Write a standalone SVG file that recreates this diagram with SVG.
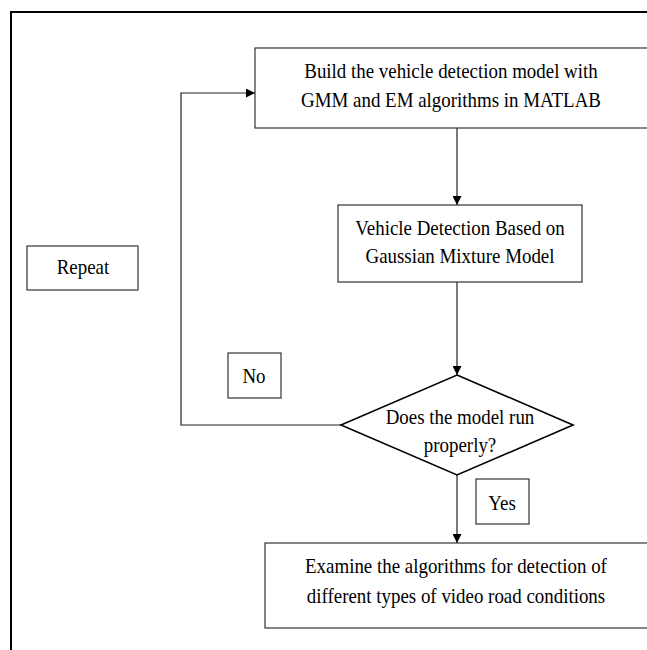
<svg xmlns="http://www.w3.org/2000/svg" width="647" height="650" viewBox="0 0 647 650">
<style>
.box{fill:#fff;stroke:#333;stroke-width:1.2}
.dia{fill:#fff;stroke:#000;stroke-width:1.6}
.t{font-family:"Liberation Serif","Times New Roman",serif;font-size:22px;fill:#000;text-anchor:middle}
.c{fill:none;stroke:#222;stroke-width:1.2}
</style>
<defs>
<marker id="ah" viewBox="0 0 10 10" refX="10" refY="5" markerWidth="10" markerHeight="9" markerUnits="userSpaceOnUse" orient="auto">
<path d="M0,0 L10,5 L0,10 z" fill="#000"/>
</marker>
</defs>
<rect x="0" y="0" width="647" height="650" fill="#fff"/>
<rect x="11" y="12" width="700" height="700" fill="none" stroke="#000" stroke-width="2"/>
<g id="connectors">
<polyline class="c" points="341,425 181,425 181,93 255,93" marker-end="url(#ah)"/>
<line class="c" x1="457" y1="128" x2="457" y2="205" marker-end="url(#ah)"/>
<line class="c" x1="457" y1="282" x2="457" y2="375" marker-end="url(#ah)"/>
<line class="c" x1="457" y1="475" x2="457" y2="543" marker-end="url(#ah)"/>
</g>
<g id="build">
<rect class="box" x="255" y="48" width="420" height="80"/>
<text class="t" transform="translate(451,78) scale(0.86,1)">Build the vehicle detection model with</text>
<text class="t" transform="translate(451,107) scale(0.86,1)">GMM and EM algorithms in MATLAB</text>
</g>
<g id="detect">
<rect class="box" x="338" y="205" width="244" height="77"/>
<text class="t" transform="translate(460,235) scale(0.86,1)">Vehicle Detection Based on</text>
<text class="t" transform="translate(460,263) scale(0.86,1)">Gaussian Mixture Model</text>
</g>
<g id="decision">
<polygon class="dia" points="457,375 573,425 457,475 341,425"/>
<text class="t" transform="translate(460,424) scale(0.86,1)">Does the model run</text>
<text class="t" transform="translate(460,452) scale(0.86,1)">properly?</text>
</g>
<g id="examine">
<rect class="box" x="265" y="543" width="420" height="85"/>
<text class="t" transform="translate(456,573) scale(0.86,1)">Examine the algorithms for detection of</text>
<text class="t" transform="translate(456,603) scale(0.86,1)">different types of video road conditions</text>
</g>
<g id="repeat">
<rect class="box" x="27" y="246" width="111" height="44"/>
<text class="t" transform="translate(83,274) scale(0.86,1)">Repeat</text>
</g>
<g id="no">
<rect class="box" x="228" y="353" width="53" height="45"/>
<text class="t" transform="translate(254,383) scale(0.86,1)">No</text>
</g>
<g id="yes">
<rect class="box" x="476" y="479" width="53" height="45"/>
<text class="t" transform="translate(502,510) scale(0.86,1)">Yes</text>
</g>
</svg>
